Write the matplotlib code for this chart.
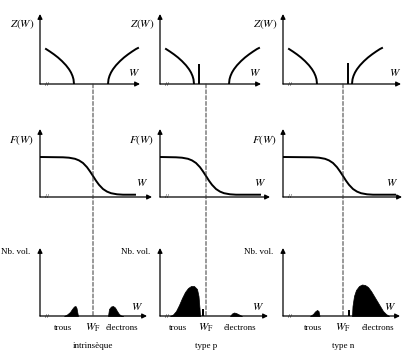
import matplotlib.pyplot as plt
from matplotlib.patches import ConnectionPatch

plt.rcParams['font.family'] = ['Liberation Serif', 'DejaVu Serif']
plt.rcParams['mathtext.fontset'] = 'stix'

# one column per semiconductor
titles = ['intrinsèque', 'type p', 'type n']
w_v = [34, 34, 34]          # top of valence band
w_c = [68, 69, 69]          # bottom of conduction band
w_f = [53, 46, 60]          # Fermi level
imp_w = [None, 39, 65]      # acceptor / donor level
imp_z = [0, 20, 21]

# Z(W): distance from the band edge -> density of states
dos_d = [0, 0.5, 1.5, 3, 5, 8, 12, 16, 20, 24, 28, 30]
dos_z = [0, 4.7, 8.1, 11.5, 14.8, 18.7, 22.9, 26.5, 29.6, 32.4, 35, 36]

# F(W): offset from W_F -> occupation
fermi_top = 40
fermi_dx = [-30, -24, -18, -14, -10, -6, -3, 0, 3, 6, 10, 14, 18, 24, 30]
fermi_f = [39.7, 39.3, 38.2, 36.6, 34.0, 29.8, 25.6, 21.0, 16.3, 12.2, 8.0, 5.4, 3.8, 2.7, 2.3]
fermi_end = [95, 100, 112]

# Nb. vol.: holes and electrons
holes_w = [[24, 27, 30, 32, 34, 35.5, 36.5, 38],
           [10, 13, 16, 19, 22, 25, 28, 31, 34, 37, 38.5, 39.5, 40],
           [27, 30, 32, 34, 35.5, 36.5]]
holes_n = [[0, 1.5, 4, 7, 9.5, 10, 8, 0],
           [0, 1.5, 5, 11, 18, 24, 28, 30, 30, 27, 20, 8, 0],
           [0, 2, 4.5, 6, 5, 0]]
elec_w = [[68, 69, 71, 73, 75, 77, 79, 81, 83],
          [70, 72, 74, 76, 79, 82],
          [69, 69.5, 71, 73, 76, 79, 82, 85, 88, 91, 94, 97, 100, 103, 106]]
elec_n = [[0, 7, 9.5, 10, 8.5, 5, 2, 0.5, 0],
          [0, 2.5, 3.5, 3, 1.5, 0],
          [0, 10, 20, 26, 30, 31.5, 31, 29, 25, 20, 15, 10, 5, 2, 0]]
imp_bar_w = [None, 43, 66]
imp_bar_n = [0, 7, 6.5]
trous_x = [23, 18, 30]
elec_x = [82, 80, 95]

W, H = 410, 355
lefts = [40, 160, 283]
rows = [(14, 84, [140, 261, 401]),
        (129, 197, [152, 270, 402]),
        (248, 316, [147, 268, 400])]

fig = plt.figure(figsize=(W / 100, H / 100), dpi=100)


def make_axes(left, right, tip, base):
    ax = fig.add_axes([left / W, (H - base) / H, (right - left) / W, (base - tip) / H])
    ax.set_xlim(0, right - left)
    ax.set_ylim(0, base - tip)
    ax.axis('off')
    arrow = dict(arrowstyle='-|>', lw=0.9, color='black', mutation_scale=7, shrinkA=0, shrinkB=0)
    ax.annotate('', xy=(1, 0), xytext=(0, 0), xycoords='axes fraction', arrowprops=arrow)
    ax.annotate('', xy=(0, 1), xytext=(0, 0), xycoords='axes fraction', arrowprops=arrow)
    ax.text(7, 0, '//', fontsize=5, ha='center', va='center')
    return ax


axes = [[make_axes(lefts[j], r[2][j], r[0], r[1]) for j in range(3)] for r in rows]

for j in range(3):
    # top: density of states
    ax = axes[0][j]
    ax.plot([w_v[j] - d for d in dos_d[:-1]], dos_z[:-1], color='black', lw=1.4)
    ax.plot([w_c[j] + d for d in dos_d], dos_z, color='black', lw=1.4)
    if imp_w[j] is not None:
        ax.vlines(imp_w[j], 0, imp_z[j], color='black', lw=1.4)
    ax.text(-6, 60, '$Z(W)$', fontsize=8, ha='right', va='center')
    ax.text(ax.get_xlim()[1] - 6, 11, '$W$', fontsize=8, ha='center', va='center')

    # middle: Fermi function
    ax = axes[1][j]
    fx = [0] + [w_f[j] + d for d in fermi_dx] + [fermi_end[j]]
    fy = [fermi_top] + fermi_f + [fermi_f[-1]]
    ax.plot(fx, fy, color='black', lw=1.4)
    ax.text(-6, 57, '$F(W)$', fontsize=8, ha='right', va='center')
    ax.text(ax.get_xlim()[1] - 10, 14, '$W$', fontsize=8, ha='center', va='center')

    # bottom: carrier densities
    ax = axes[2][j]
    ax.fill_between(holes_w[j], holes_n[j], color='black', lw=0.5)
    ax.fill_between(elec_w[j], elec_n[j], color='black', lw=0.5)
    if imp_bar_w[j] is not None:
        ax.bar(imp_bar_w[j], imp_bar_n[j], width=2, color='black')
    ax.text(-10, 64, 'Nb. vol.', fontsize=6.5, ha='right', va='center')
    ax.text(ax.get_xlim()[1] - 10, 9, '$W$', fontsize=8, ha='center', va='center')
    ax.text(trous_x[j], -12, 'trous', fontsize=6.5, ha='center', va='center')
    ax.text(w_f[j], -12, r'$W_{\mathrm{F}}$', fontsize=8, ha='center', va='center')
    ax.text(elec_x[j], -12, 'électrons', fontsize=6.5, ha='center', va='center')
    ax.text(w_f[j], -30, titles[j], fontsize=6.5, ha='center', va='center')

    # dashed Fermi level through the three rows
    con = ConnectionPatch(xyA=(w_f[j], 0), coordsA=axes[0][j].transData,
                          xyB=(w_f[j], 0), coordsB=axes[2][j].transData,
                          linestyle=(0, (4, 2)), lw=0.7, color='#333333')
    fig.add_artist(con)

fig.savefig('out.png', dpi=100)
